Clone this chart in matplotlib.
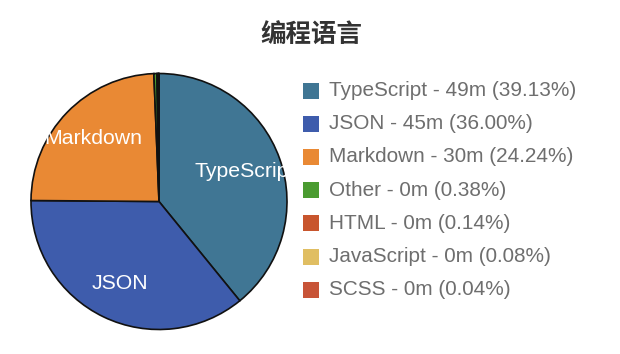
import matplotlib
matplotlib.use("Agg")
import matplotlib.pyplot as plt
from matplotlib.patches import Rectangle

plt.rcParams['font.family'] = ['Liberation Sans', 'Noto Sans CJK SC', 'DejaVu Sans']

title = "编程语言"
languages = ["TypeScript", "JSON", "Markdown", "Other", "HTML", "JavaScript", "SCSS"]
minutes = [49, 45, 30, 0, 0, 0, 0]
percents = [39.13, 36.00, 24.24, 0.38, 0.14, 0.08, 0.04]
colors = ["#407694", "#3e5cac", "#e98934", "#4a9b30", "#c8552d", "#e0be62", "#c85437"]
inner_labels = ["TypeScript", "JSON", "Markdown", "", "", "", ""]

W, H = 620, 354
fig = plt.figure(figsize=(W / 100, H / 100), dpi=100)
ax = fig.add_axes([0, 0, 1, 1])
ax.set_xlim(0, W)
ax.set_ylim(0, H)
ax.set_aspect('equal')
ax.axis('off')

cx, cy, R = 159, H - 201.5, 128
wedges, texts = ax.pie(percents, labels=inner_labels, colors=colors, startangle=90,
                       counterclock=False, center=(cx, cy), radius=R,
                       labeldistance=0.71, frame=False,
                       wedgeprops=dict(edgecolor='#111111', linewidth=1.2),
                       textprops=dict(color='white', fontsize=15.3))
for w, t in zip(wedges, texts):
    t.set_ha('center')
    t.set_va('center')
    t.set_clip_path(w)
    t.set_clip_on(True)

ax.set_xlim(0, W)
ax.set_ylim(0, H)

fig.text(311 / W, 1 - 35 / H, title, ha='center', va='center', fontsize=18.4,
         fontweight='bold', color='#333333', family=['Noto Sans CJK SC', 'DejaVu Sans'])

row0, pitch = 90.5, 33.2
for i, (name, m, p, c) in enumerate(zip(languages, minutes, percents, colors)):
    yc = H - (row0 + i * pitch)
    ax.add_patch(Rectangle((303, yc - 8), 16, 16, facecolor=c, edgecolor='none'))
    ax.text(329, yc, f"{name} - {m}m ({p:.2f}%)", ha='left', va='center',
            fontsize=14.95, color='#6e6e6e')

fig.savefig("out.png", dpi=100)
